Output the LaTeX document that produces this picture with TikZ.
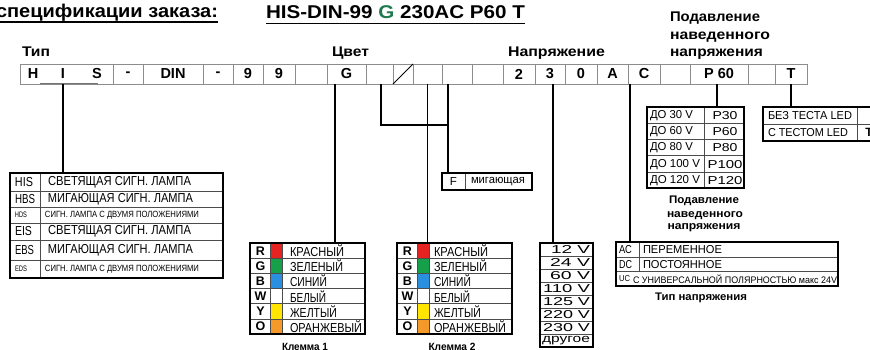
\documentclass[tikz,border=0pt]{standalone}
\usepackage{fontspec}
\setmainfont{Liberation Sans}
\usepackage{graphicx}
\newcommand\fsz[1]{\fontsize{#1}{#1}\selectfont}
\newcommand\fw[2]{\resizebox{#1pt}{\height}{#2}}
\definecolor{swR}{HTML}{E52421}
\definecolor{swG}{HTML}{16A04A}
\definecolor{swB}{HTML}{2B8FE0}
\definecolor{swY}{HTML}{FFE500}
\definecolor{swO}{HTML}{F39A2B}
\definecolor{titleG}{HTML}{1F7A4F}
\begin{document}
\begin{tikzpicture}[x=1pt,y=-1pt,
  every node/.style={inner sep=0pt,outer sep=0pt},
  cellbox/.style={draw=black!45,line width=0.8pt,minimum height=20pt,font=\fsz{14.5}\bfseries},
  tbl/.style={draw=black,line width=1.9pt,anchor=north west},
  rule/.style={draw=black!70,line width=0.5pt},
  conn/.style={draw=black,line width=1.1pt},
  head/.style={font=\fsz{14}\bfseries,anchor=base west},
  rowtxt/.style={anchor=west,font=\fsz{13}},
]
\useasboundingbox (0,0) rectangle (870,349);
\clip (0,0) rectangle (870,349);

% ---- titles
\node[anchor=base west,font=\fsz{18.5}\bfseries] (title) at (-4,17.5) {\fw{222}{спецификации заказа:}};
\draw[line width=1.4pt] ([yshift=-4.5pt]title.base west) -- ([yshift=-4.5pt]title.base east);
\node[anchor=base west,font=\fsz{18.5}\bfseries] (code) at (266,18.3) {\fw{259}{HIS-DIN-99 \textcolor{titleG}{G} 230AC P60 T}};
\draw[line width=1.4pt] ([yshift=-5pt]code.base west) -- ([yshift=-5pt]code.base east);

% ---- headings
\node[head] (hTip) at (22,56.5) {\fw{28}{Тип}};
\node[head] (hCvet) at (332,56.5) {\fw{37}{Цвет}};
\node[head] (hNapr) at (508,56.5) {\fw{97}{Напряжение}};
\node[head] (hPodA) at (670,21.5) {\fw{90}{Подавление}};
\node[head] (hPodB) at (670,39) {\fw{100}{наведенного}};
\node[head] (hPodC) at (670,56) {\fw{93}{напряжения}};

% ---- top row of code cells
\foreach \a/\b/\t/\n in {20/113//his, 113/143/-/da, 143/203/DIN/din, 203/233/-/db, 233/263/9/na, 263/295/9/nb,
  295/327//ea, 327/366/G/g, 366/393//eb, 393/413//sl, 413/442//ec, 442/472//ed, 472/503//ee,
  503/535/2/va, 535/565/3/vb, 565/597/0/vc, 597/628/A/a, 628/660/C/c, 660/690//ef,
  690/748/P 60/p, 748/775//eg, 775/807/T/t}
  \node[cellbox,minimum width={(\b-\a)*1pt}] (\n) at ({(\a+\b)/2},74) {\t};
\node[font=\fsz{14.5}\bfseries] (lH) at (33,74) {H};
\node[font=\fsz{14.5}\bfseries] (lI) at (63,74) {I};
\node[font=\fsz{14.5}\bfseries] (lS) at (97,74) {S};
\draw[line width=0.9pt] (sl.south west) -- (sl.north east);
\draw[draw=black!55,line width=0.9pt] (40,83.3) -- (98,83.3);

% ---- type table
\foreach \y in {191,207,223,240,260} \draw[rule] (10,\y) -- (223,\y);
\draw[rule] (40,173) -- (40,278);
\node[tbl,minimum width=213pt,minimum height=105pt] (types) at (10,173) {};
\foreach \y/\c/\d/\w/\cw in {182/HIS/СВЕТЯЩАЯ СИГН. ЛАМПА/143/18, 199/HBS/МИГАЮЩАЯ СИГН. ЛАМПА/145/20,
   231.5/EIS/СВЕТЯЩАЯ СИГН. ЛАМПА/143/17, 250/EBS/МИГАЮЩАЯ СИГН. ЛАМПА/145/19} {
  \node[rowtxt] (tc\c) at (15,\y) {\fw{\cw}{\c}};
  \node[rowtxt] (td\c) at (48,\y) {\fw{\w}{\d}};
}
\foreach \y/\c in {215/HDS, 269/EDS} {
  \node[rowtxt,font=\fsz{8}] (tc\c) at (15,\y) {\fw{12}{\c}};
  \node[rowtxt,font=\fsz{9}] (td\c) at (45,\y) {\fw{154}{СИГН. ЛАМПА С ДВУМЯ ПОЛОЖЕНИЯМИ}};
}

% ---- colour tables (Клемма 1, Клемма 2)
\foreach \kx/\kn/\kt in {250/kA/290, 397/kB/434} {
  \foreach \ki/\kc/\kl/\ks/\kw in {0/swR/R/КРАСНЫЙ/54, 1/swG/G/ЗЕЛЕНЫЙ/53, 2/swB/B/СИНИЙ/37,
      3/white/W/БЕЛЫЙ/36, 4/swY/Y/ЖЕЛТЫЙ/47, 5/swO/O/ОРАНЖЕВЫЙ/72} {
    \fill[\kc] (\kx+20,243+\ki*15.17) rectangle (\kx+32,243+\ki*15.17+15.17);
    \node[font=\fsz{12.5}\bfseries] (\kn l\ki) at (\kx+10.5,243+\ki*15.17+7.8) {\kl};
    \node[rowtxt] (\kn t\ki) at (\kt,243+\ki*15.17+7.8) {\fw{\kw}{\ks}};
  }
  \foreach \ki in {1,...,5} \draw[rule] (\kx,243+\ki*15.17) -- (\kx+115,243+\ki*15.17);
  \draw[rule] (\kx+20,243) -- (\kx+20,334);
  \draw[rule] (\kx+32,243) -- (\kx+32,334);
  \node[tbl,minimum width=115pt,minimum height=91pt] (\kn) at (\kx,243) {};
}
\node[font=\fsz{10.5}\bfseries] (labA) at (305,346.5) {\fw{46}{Клемма 1}};
\node[font=\fsz{10.5}\bfseries] (labB) at (452,346.5) {\fw{47}{Клемма 2}};

% ---- voltage table
\foreach \i in {1,...,7} \draw[rule] (540,243+\i*13) -- (593,243+\i*13);
\node[tbl,minimum width=53pt,minimum height=104pt] (volt) at (540,243) {};
\foreach \i/\v/\ww in {0/12 V/39, 1/24 V/40, 2/60 V/40, 3/110 V/47, 4/125 V/47, 5/220 V/47, 6/230 V/47, 7/другое/48}
  \node[anchor=east,font=\fsz{11.5}] (vt\i) at (590,249.8+\i*13) {\fw{\ww}{\v}};

% ---- F box
\draw[rule] (465,173) -- (465,190);
\node[tbl,minimum width=90pt,minimum height=17pt] (fbox) at (442,173) {};
\node[font=\fsz{11.5}] (fF) at (453.5,181.5) {F};
\node[rowtxt,font=\fsz{11.5}] (fT) at (471,181.5) {\fw{54}{мигающая}};

% ---- AC table
\draw[rule] (616,257) -- (838,257);
\draw[rule] (616,271.5) -- (838,271.5);
\draw[rule] (639,242) -- (639,271.5);
\node[tbl,minimum width=222pt,minimum height=44pt] (actype) at (616,242) {};
\node[rowtxt,font=\fsz{11.5}] (acA) at (619,249.5) {\fw{13}{AC}};
\node[rowtxt,font=\fsz{11.5}] (acB) at (643,249.5) {\fw{79}{ПЕРЕМЕННОЕ}};
\node[rowtxt,font=\fsz{11.5}] (dcA) at (619,264.3) {\fw{13}{DC}};
\node[rowtxt,font=\fsz{11.5}] (dcB) at (643,264.3) {\fw{79}{ПОСТОЯННОЕ}};
\node[rowtxt,font=\fsz{8.5}] (ucA) at (619,279) {\fw{11}{UC}};
\node[rowtxt,font=\fsz{9.5}] (ucB) at (633,279) {\fw{204}{С УНИВЕРСАЛЬНОЙ ПОЛЯРНОСТЬЮ макс 24V}};
\node[anchor=base,font=\fsz{11}\bfseries] (acLab) at (701,300) {\fw{92}{Тип напряжения}};

% ---- suppression table
\foreach \i in {1,...,4} \draw[rule] (647,107+\i*16.2) -- (744,107+\i*16.2);
\draw[rule] (704,107) -- (704,188);
\node[tbl,minimum width=97pt,minimum height=81pt] (supp) at (647,107) {};
\foreach \i/\u/\uw/\q/\qw in {0/ДО 30 V/43/P30/25, 1/ДО 60 V/43/P60/25, 2/ДО 80 V/43/P80/25, 3/ДО 100 V/50/P100/35, 4/ДО 120 V/50/P120/35} {
  \node[rowtxt,font=\fsz{11.5}] (su\i) at (650,115.6+\i*16.2) {\fw{\uw}{\u}};
  \node[font=\fsz{11.5}] (sq\i) at (725,115.6+\i*16.2) {\fw{\qw}{\q}};
}
\node[anchor=base,font=\fsz{11}\bfseries] (suLabA) at (704,203) {\fw{70}{Подавление}};
\node[anchor=base,font=\fsz{11}\bfseries] (suLabB) at (705,217) {\fw{76}{наведенного}};
\node[anchor=base,font=\fsz{11}\bfseries] (suLabC) at (704,229) {\fw{73}{напряжения}};

% ---- test table
\draw[rule] (763,124) -- (900,124);
\draw[rule] (857,107) -- (857,141);
\node[tbl,minimum width=137pt,minimum height=34pt] (test) at (763,107) {};
\node[rowtxt,font=\fsz{11.5}] (teA) at (768,115.8) {\fw{84}{БЕЗ ТЕСТА LED}};
\node[rowtxt,font=\fsz{11.5}] (teB) at (768,132.5) {\fw{80}{С ТЕСТОМ LED}};
\node[font=\fsz{12}\bfseries] (teT) at (869,132.5) {T};

% ---- connectors
\coordinate (cHIS) at (63,84);
\coordinate (cG) at (335,84);
\coordinate (cEb) at (381,84);
\coordinate (cEd) at (448,84);
\coordinate (cBr) at (448,125);
\coordinate (cV) at (553,84);
\coordinate (cC) at (630,84);
\coordinate (cP) at (717,84);
\draw[conn] (cHIS) -- (cHIS |- types.north);
\draw[conn] (cG) -- (cG |- kA.north);
\draw[conn] (cEb) |- (cBr);
\draw[conn] (cEd) -- (cEd |- fbox.north);
\draw[conn] (ec.south) -- (ec.south |- kB.north);
\draw[conn] (cV) -- (cV |- volt.north);
\draw[conn] (cC) -- (cC |- actype.north);
\draw[conn] (cP) -- (cP |- supp.north);
\draw[conn] (t.south) -- (t.south |- test.north);
\end{tikzpicture}
\end{document}
